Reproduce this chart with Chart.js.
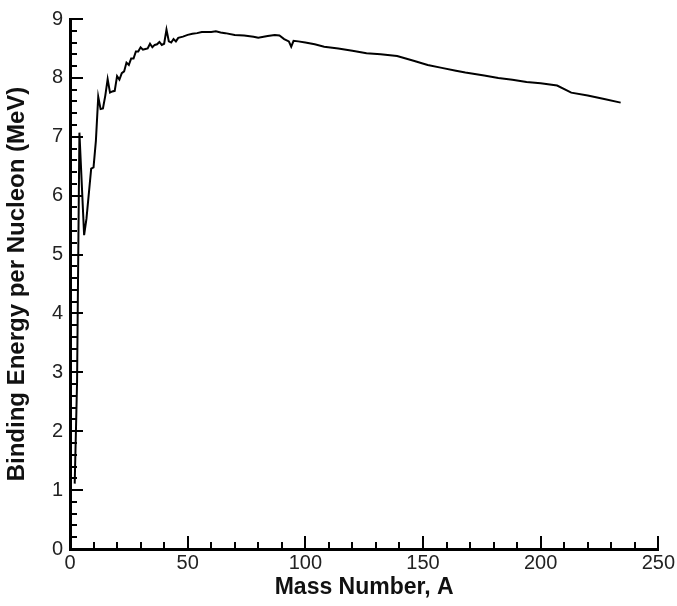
<!DOCTYPE html>
<html lang="en">
  <head>
    <meta charset="UTF-8" />
    <title>Binding Energy per Nucleon</title>
    <script src="https://cdn.jsdelivr.net/npm/chart.js@4.4.0/dist/chart.umd.min.js"></script>
    <style>
      html, body { margin: 0; padding: 0; background: #fff; }
      #wrap { width: 677px; height: 606px; }
    </style>
  </head>
  <body>
    <div id="wrap"><canvas id="chart" width="677" height="606"></canvas></div>

    <script>
      // values
      const massNumber = [2, 3, 4, 6, 7, 9, 10, 11, 12, 13, 14, 15, 16, 17, 18, 19, 20,
        21, 22, 23, 24, 25, 26, 27, 28, 29, 30, 31, 32, 33, 34, 35, 36, 37, 38, 39, 40,
        41, 42, 43, 44, 45, 46, 48, 50, 52, 54, 56, 58, 60, 62, 64, 66, 70, 74, 78, 80,
        84, 87, 89, 91, 93, 94, 95, 97, 100, 104, 108, 114, 120, 126, 132, 139, 146,
        152, 158, 164, 168, 176, 182, 188, 194, 200, 207, 213, 220, 227, 234];
      const bindingEnergy = [1.11, 2.83, 7.07, 5.33, 5.61, 6.46, 6.48, 6.93, 7.68, 7.47,
        7.48, 7.70, 7.98, 7.75, 7.77, 7.78, 8.03,
        7.97, 8.08, 8.11, 8.26, 8.22, 8.33, 8.33, 8.45, 8.45, 8.52, 8.48, 8.49, 8.50,
        8.58, 8.52, 8.56, 8.57, 8.61, 8.56, 8.58,
        8.82, 8.62, 8.60, 8.66, 8.62, 8.68, 8.70, 8.73, 8.75, 8.76, 8.78, 8.78, 8.78,
        8.79, 8.77, 8.76, 8.73, 8.72, 8.70, 8.68,
        8.71, 8.73, 8.72, 8.66, 8.62, 8.53, 8.63, 8.62, 8.60, 8.57, 8.53, 8.50, 8.46,
        8.42, 8.40, 8.37, 8.29,
        8.22, 8.17, 8.12, 8.09, 8.04, 8.00, 7.97, 7.93, 7.91, 7.87, 7.75, 7.70, 7.64, 7.58];

      const xTicks = [0, 50, 100, 150, 200, 250];
      const yTicks = [0, 1, 2, 3, 4, 5, 6, 7, 8, 9];

      const points = massNumber.map((a, i) => ({ x: a, y: bindingEnergy[i] }));

      const fontFamily = "'Liberation Sans', Arial, sans-serif";

      // ticks point into the plot, like the original figure
      const inwardTicks = {
        id: 'inwardTicks',
        afterDatasetsDraw(chart) {
          const ctx = chart.ctx;
          const area = chart.chartArea;
          const xs = chart.scales.x;
          const ys = chart.scales.y;
          ctx.save();
          ctx.strokeStyle = '#000';
          ctx.lineWidth = 2;
          ctx.beginPath();
          for (let v = 0; v <= 9.001; v += 0.2) {
            const py = Math.round(ys.getPixelForValue(v));
            const major = Math.abs(v - Math.round(v)) < 0.01;
            ctx.moveTo(area.left, py);
            ctx.lineTo(area.left + (major ? 13 : 7), py);
          }
          for (let v = 0; v <= 250; v += 10) {
            const px = Math.round(xs.getPixelForValue(v));
            const major = v % 50 === 0;
            ctx.moveTo(px, area.bottom);
            ctx.lineTo(px, area.bottom - (major ? 13 : 7));
          }
          ctx.stroke();
          ctx.restore();
        }
      };

      const ctx = document.getElementById('chart').getContext('2d');
      const myChart = new Chart(ctx, {
        type: 'scatter',
        data: {
          datasets: [{
            data: points,
            showLine: true,
            borderColor: '#000',
            backgroundColor: '#000',
            borderWidth: 2,
            pointRadius: 0,
            tension: 0
          }]
        },
        options: {
          responsive: false,
          animation: false,
          layout: { padding: { top: 16, right: 17, left: 0, bottom: 0 } },
          plugins: {
            legend: { display: false },
            tooltip: { enabled: false }
          },
          scales: {
            x: {
              type: 'linear',
              min: 0,
              max: 250,
              afterFit: s => { s.height = 57; },
              afterBuildTicks: s => { s.ticks = xTicks.map(v => ({ value: v })); },
              grid: { drawOnChartArea: false, drawTicks: false },
              border: { display: true, color: '#000', width: 3 },
              ticks: { color: '#222', padding: 2, font: { family: fontFamily, size: 20 } },
              title: {
                display: true,
                text: 'Mass Number, A',
                color: '#111',
                padding: { top: 0, bottom: 5 },
                font: { family: fontFamily, size: 23, weight: 'bold' }
              }
            },
            y: {
              min: 0,
              max: 9,
              afterFit: s => { s.width = 70; },
              afterBuildTicks: s => { s.ticks = yTicks.map(v => ({ value: v })); },
              grid: { drawOnChartArea: false, drawTicks: false },
              border: { display: true, color: '#000', width: 3 },
              ticks: { color: '#222', padding: 7, font: { family: fontFamily, size: 20 } },
              title: {
                display: true,
                text: 'Binding Energy per Nucleon (MeV)',
                color: '#111',
                padding: { top: 3, bottom: 0 },
                font: { family: fontFamily, size: 24, weight: 'bold' }
              }
            }
          }
        },
        plugins: [inwardTicks]
      });
    </script>
  </body>
</html>
